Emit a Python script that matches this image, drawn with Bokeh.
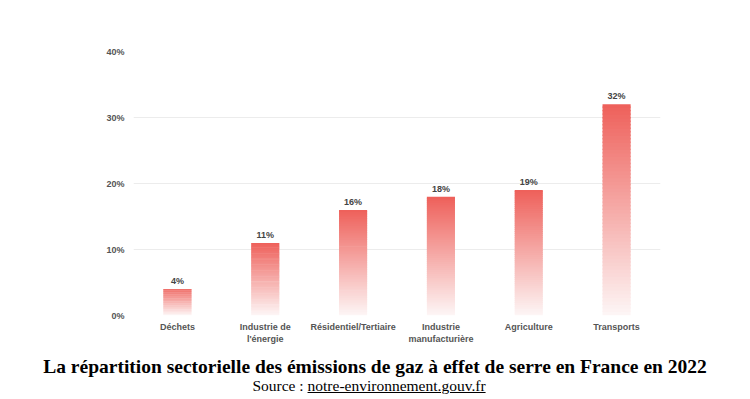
from bokeh.plotting import figure
from bokeh.models import Range1d, FactorRange, FixedTicker, Div
from bokeh.layouts import column
from bokeh.embed import file_html
from bokeh.resources import INLINE
from bokeh.core.properties import value

# ---- data ----
categories = ["Déchets", "Industrie de\nl'énergie", "Résidentiel/Tertiaire",
              "Industrie\nmanufacturière", "Agriculture", "Transports"]
shares = [4, 11, 16, 18, 19, 32]
y_ticks = [0, 10, 20, 30, 40]
y_tick_labels = ["0%", "10%", "20%", "30%", "40%"]
value_labels = [f"{v}%" for v in shares]

title_text = "La répartition sectorielle des émissions de gaz à effet de serre en France en 2022"
source_prefix = "Source :"
source_link = "notre-environnement.gouv.fr"

# ---- style ----
TOP_RGB = (238, 96, 90)
BOT_RGB = (253, 246, 246)
N_STEPS = 60
LABEL_FONT = "Liberation Sans"
LABEL_COLOR = "#555555"

W = 742
H_CHART = 348
H_TITLE = 47

p = figure(width=W, height=H_CHART, x_range=FactorRange(*categories),
           y_range=Range1d(0, 40), output_backend="svg", toolbar_location=None,
           min_border_left=133, min_border_right=W - 133 - 527, min_border_top=51,
           min_border_bottom=H_CHART - 51 - 264)
p.outline_line_color = None
p.background_fill_color = "white"
p.border_fill_color = "white"

# gradient bars: each bar split into thin slices derived from its value
xs, bots, tops, cols = [], [], [], []
for cat, v in zip(categories, shares):
    for i in range(N_STEPS):
        t = (i + 0.5) / N_STEPS
        r = round(BOT_RGB[0] + (TOP_RGB[0] - BOT_RGB[0]) * t)
        g = round(BOT_RGB[1] + (TOP_RGB[1] - BOT_RGB[1]) * t)
        b = round(BOT_RGB[2] + (TOP_RGB[2] - BOT_RGB[2]) * t)
        xs.append(cat)
        bots.append(v * i / N_STEPS)
        tops.append(min(v, v * (i + 1.4) / N_STEPS))
        cols.append(f"#{r:02x}{g:02x}{b:02x}")
p.vbar(x=xs, bottom=bots, top=tops, width=0.32, fill_color=cols, line_color=None)

p.text(x=categories, y=shares, text=value_labels, y_offset=-8,
       text_align="center", text_baseline="alphabetic",
       text_font=value(LABEL_FONT), text_font_size="9px", text_font_style="bold",
       text_color="#444444")

p.ygrid.grid_line_color = "#ececec"
p.xgrid.grid_line_color = None

p.yaxis.ticker = FixedTicker(ticks=y_ticks)
p.yaxis.major_label_overrides = {float(k): l for k, l in zip(y_ticks, y_tick_labels)}
for ax in (p.xaxis, p.yaxis):
    ax.axis_line_color = None
    ax.major_tick_line_color = None
    ax.minor_tick_line_color = None
    ax.major_tick_out = 0
    ax.major_tick_in = 0
    ax.major_label_text_font = LABEL_FONT
    ax.major_label_text_font_size = "9px"
    ax.major_label_text_font_style = "bold"
    ax.major_label_text_color = LABEL_COLOR
p.yaxis.major_label_standoff = 9
p.xaxis.major_label_standoff = 6
p.xaxis.major_label_orientation = "horizontal"

# ---- title block ----
html = (
    '<div style="width:734px;margin:0 0 0 8px;padding:0;text-align:center;'
    "font-family:'Liberation Serif',serif;color:#000;\">"
    f'<div style="font-size:19.5px;font-weight:bold;line-height:20px;padding-top:9px;white-space:nowrap;">{title_text}</div>'
    f'<div style="font-size:15.5px;line-height:18px;padding-right:12px;white-space:nowrap;">{source_prefix} <u>{source_link}</u></div>'
    "</div>"
)
title_div = Div(text=html, width=W, height=H_TITLE, styles={"margin": "0", "padding": "0"})

layout = column(p, title_div, spacing=0)
open("out.html", "w").write(file_html(layout, INLINE))
